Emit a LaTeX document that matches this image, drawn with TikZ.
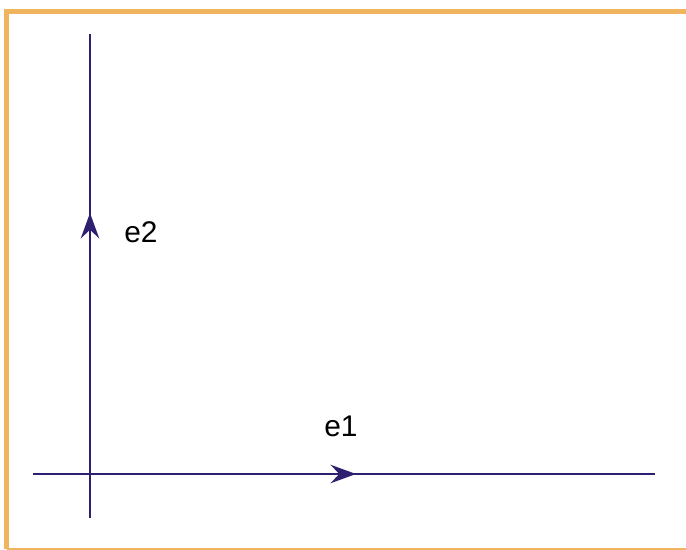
\documentclass[tikz,border=0pt]{standalone}
\usepackage{fontspec}
\setmainfont{Liberation Sans}
\usetikzlibrary{arrows.meta}
\definecolor{axisblue}{HTML}{2F1F70}
\definecolor{frameorange}{HTML}{F0B35E}

\begin{document}
\begin{tikzpicture}[x=0.02cm,y=-0.02cm,
	axis/.style={draw=axisblue, line width=1.5pt},
	tip/.style={axis, -{Stealth[length=14.5pt,width=10.5pt,inset=5pt]}},
	lbl/.style={font=\fontsize{17}{20}\selectfont, inner sep=0pt}]
			\useasboundingbox (0,0) rectangle (686,550);
			\fill[white] (0,0) rectangle (686,550);
			% frame
			\draw[frameorange, line width=2.8pt] (686,11.5) -- (6.5,11.5) -- (6.5,549);
			\draw[frameorange, line width=1.2pt] (6.5,549) -- (686,549);
			% axes
			\coordinate (xa) at (33,474);
			\coordinate (xm) at (356,474);
			\coordinate (xb) at (655,474);
			\coordinate (ya) at (90,518);
			\coordinate (ym) at (90,213);
			\coordinate (yb) at (90,34);
			\draw[axis] (xa) -- (xb);
			\draw[axis] (ya) -- (yb);
			\draw[tip] (xa) -- (xm);
			\draw[tip] (ya) -- (ym);
			\node[lbl] (e1) at (341,426) {e1};
			\node[lbl] (e2) at (141,232) {e2};
		\end{tikzpicture}
\end{document}
